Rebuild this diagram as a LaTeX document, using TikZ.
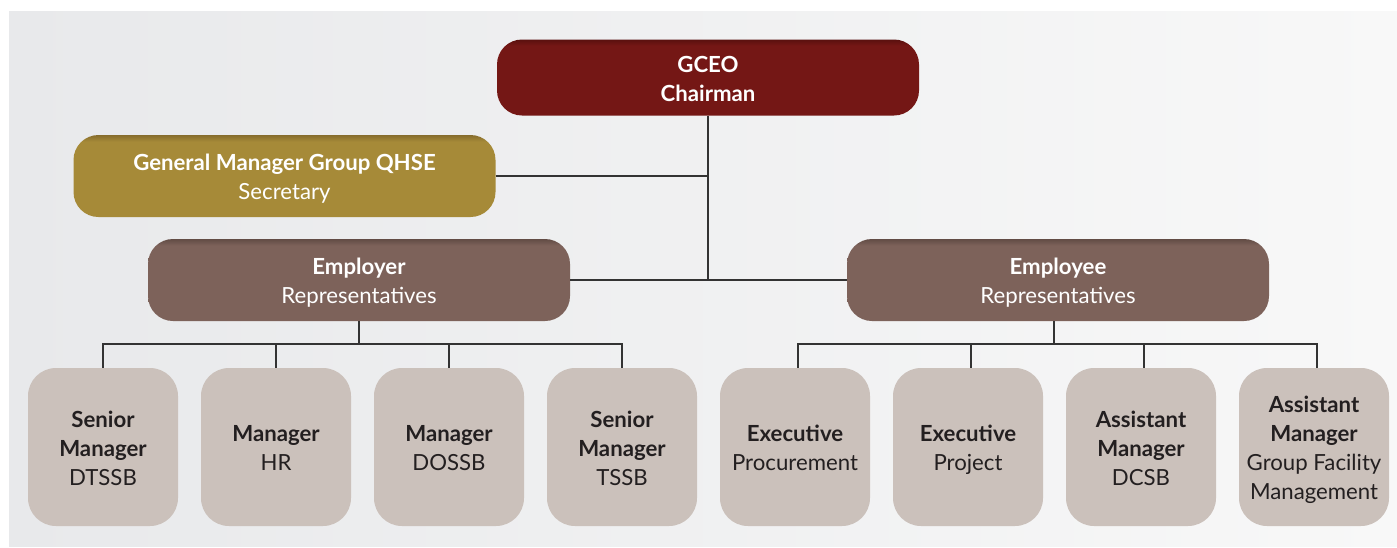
\documentclass[tikz,border=0pt]{standalone}
\usepackage{fontspec}
\setmainfont{Lato}
\usetikzlibrary{calc}
\definecolor{bgL}{HTML}{E8E9EB}
\definecolor{bgR}{HTML}{F8F8F8}
\definecolor{gceoC}{HTML}{741715}
\definecolor{gceoD}{HTML}{5A100F}
\definecolor{qhseC}{HTML}{A68A38}
\definecolor{qhseD}{HTML}{866C2C}
\definecolor{repC}{HTML}{7D625A}
\definecolor{repD}{HTML}{624C45}
\definecolor{subC}{HTML}{CBC1BB}
\definecolor{txtD}{HTML}{231F20}
\definecolor{lineC}{HTML}{333333}
\newcommand\mytopstrut{\rule{0pt}{27pt}}
\newcommand\mybotstrut{\rule[-8.7pt]{0pt}{8.7pt}}
\pgfdeclareverticalshading{gceoSh}{100bp}{color(0bp)=(gceoC); color(71bp)=(gceoC); color(75bp)=(gceoD); color(100bp)=(gceoD)}
\pgfdeclareverticalshading{qhseSh}{100bp}{color(0bp)=(qhseC); color(71bp)=(qhseC); color(75bp)=(qhseD); color(100bp)=(qhseD)}
\pgfdeclareverticalshading{repSh}{100bp}{color(0bp)=(repC); color(71bp)=(repC); color(75bp)=(repD); color(100bp)=(repD)}
\tikzset{
  txtbase/.style={inner sep=0pt, align=center, font=\fontsize{22.2}{29}\selectfont},
  topbox/.style={txtbase, rounded corners=25pt, minimum width=422pt, minimum height=82pt, text=white},
  subbox/.style={txtbase, rounded corners=28pt, fill=subC, minimum width=150pt, minimum height=158pt, text=txtD},
  conn/.style={draw=lineC, line width=1.3pt}
}
\begin{document}
\begin{tikzpicture}[x=1pt,y=-1pt]
\useasboundingbox (0,0) rectangle (1397,547);
\fill[left color=bgL, right color=bgR] (9,11) rectangle (1397,546);

\node[topbox, shading=gceoSh, minimum height=76pt] (gceo) at (708,77.5) {\mytopstrut\textbf{GCEO}\\\textbf{Chairman}\mybotstrut};
\node[topbox, shading=qhseSh] (qhse) at (284.5,176) {\mytopstrut\textbf{General Manager Group QHSE}\\Secretary\mybotstrut};
\node[topbox, shading=repSh] (employer) at (359,280) {\mytopstrut\textbf{Employer}\\Representatives\mybotstrut};
\node[topbox, shading=repSh] (employee) at (1058,280) {\mytopstrut\textbf{Employee}\\Representatives\mybotstrut};

\node[subbox] (b1) at (103,447) {\mytopstrut\textbf{Senior}\\\textbf{Manager}\\DTSSB\mybotstrut};
\node[subbox] (b2) at (276,447) {\mytopstrut\textbf{Manager}\\HR\mybotstrut};
\node[subbox] (b3) at (449,447) {\mytopstrut\textbf{Manager}\\DOSSB\mybotstrut};
\node[subbox] (b4) at (622,447) {\mytopstrut\textbf{Senior}\\\textbf{Manager}\\TSSB\mybotstrut};
\node[subbox] (b5) at (795,447) {\mytopstrut\textbf{Executive}\\Procurement\mybotstrut};
\node[subbox] (b6) at (968,447) {\mytopstrut\textbf{Executive}\\Project\mybotstrut};
\node[subbox] (b7) at (1141,447) {\mytopstrut\textbf{Assistant}\\\textbf{Manager}\\DCSB\mybotstrut};
\node[subbox] (b8) at (1314,447) {\mytopstrut\textbf{Assistant}\\\textbf{Manager}\\Group Facility\\Management\mybotstrut};

\coordinate (lbar) at (359,344);
\coordinate (rbar) at (1054,344);
\coordinate (es) at ([xshift=-4pt]employee.south);
\coordinate (s5) at ([xshift=3pt]b5.north);
\coordinate (s6) at ([xshift=3pt]b6.north);
\coordinate (s7) at ([xshift=3pt]b7.north);
\coordinate (s8) at ([xshift=3pt]b8.north);

\draw[conn] (gceo.south) -- (gceo.south |- employer.east);
\draw[conn] (qhse.east) -- (qhse.east -| gceo.south);
\draw[conn] (employer.east) -- (employee.west);

\draw[conn] (employer.south) -- (lbar);
\draw[conn] (b1.north) |- (lbar) -| (b4.north);
\draw[conn] (b2.north) -- (b2.north |- lbar);
\draw[conn] (b3.north) -- (b3.north |- lbar);

\draw[conn] (es) -- (rbar);
\draw[conn] (s5) |- (rbar) -| (s8);
\draw[conn] (s6) -- (s6 |- rbar);
\draw[conn] (s7) -- (s7 |- rbar);
\end{tikzpicture}
\end{document}
